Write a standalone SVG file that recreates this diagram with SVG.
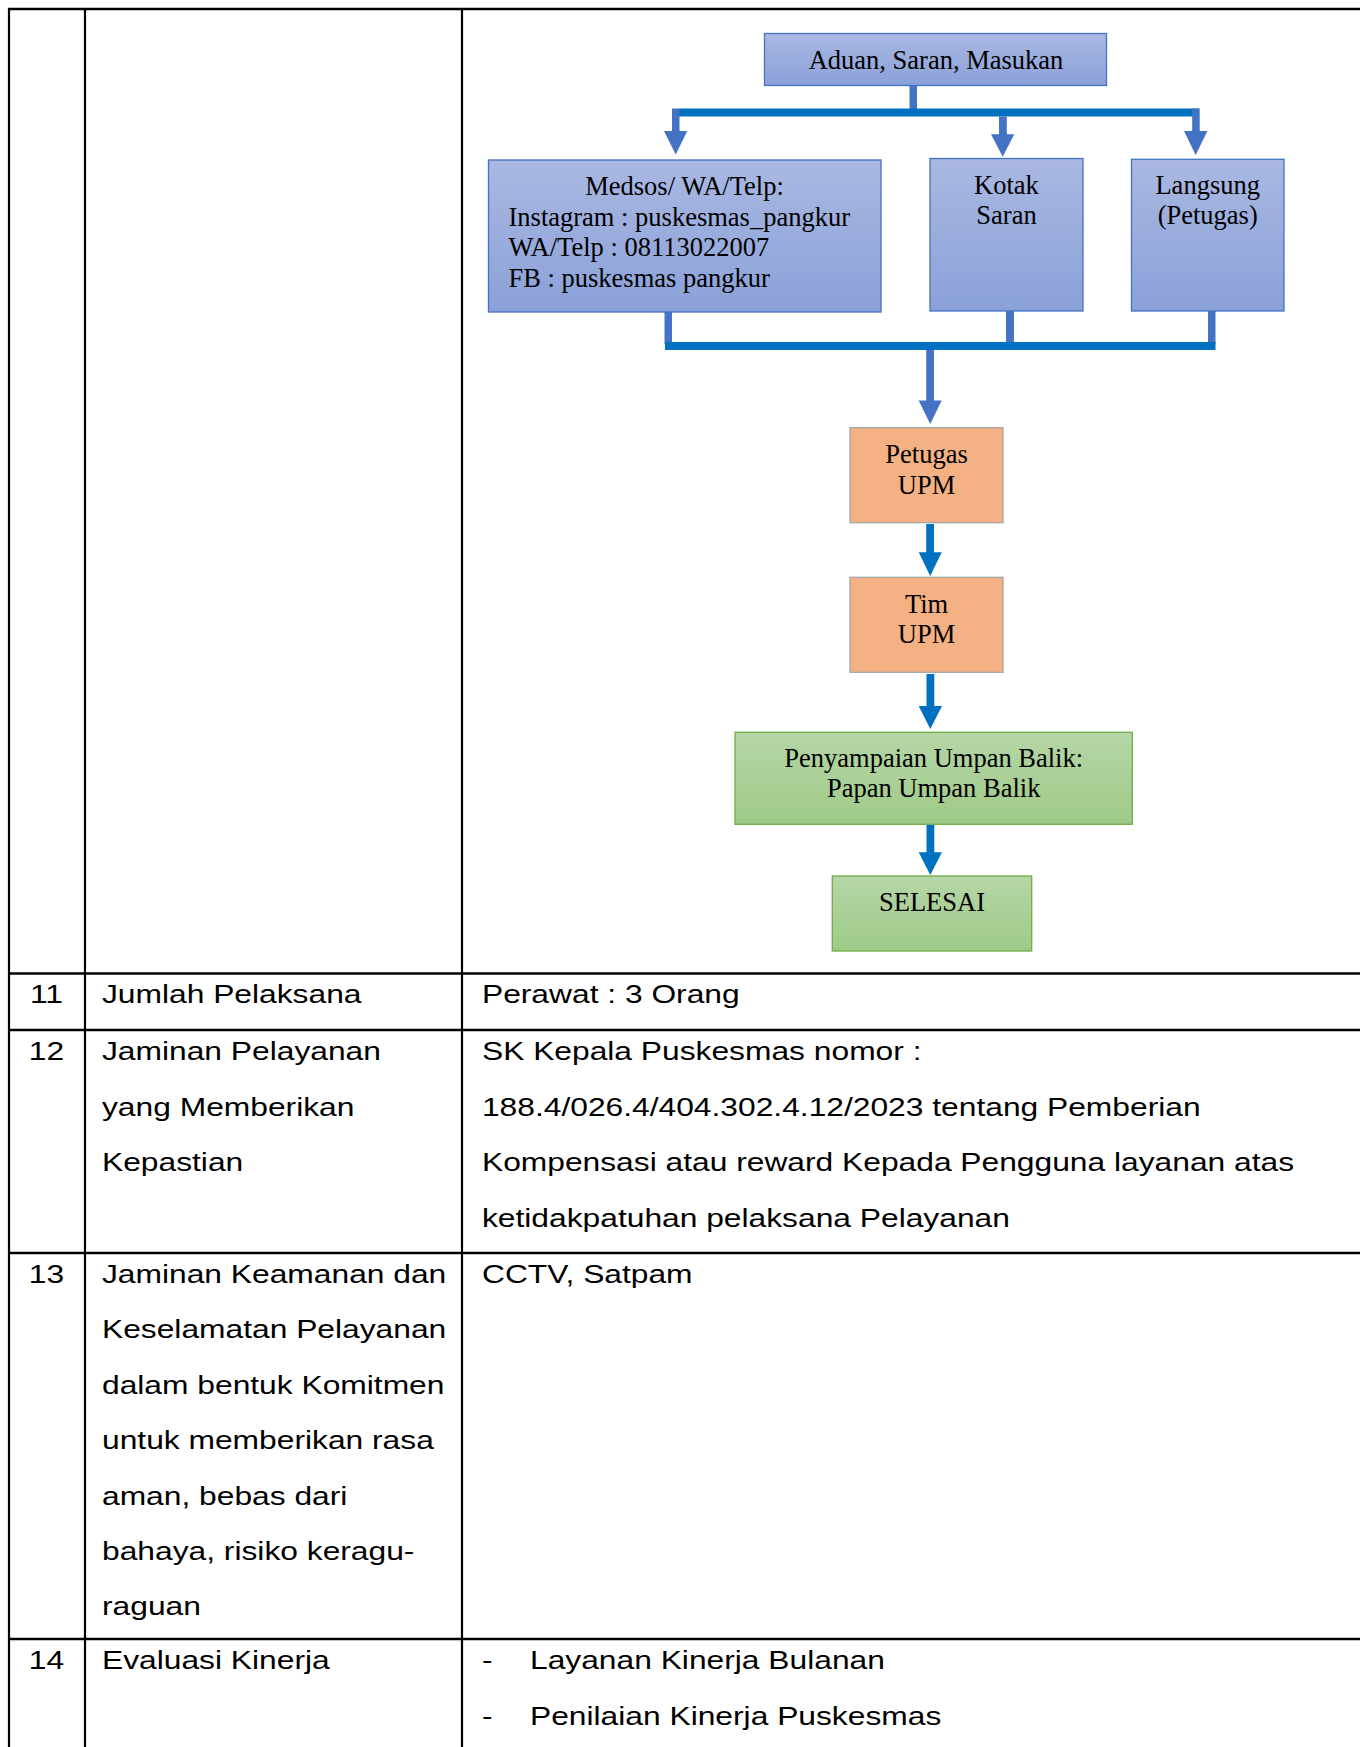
<svg xmlns="http://www.w3.org/2000/svg" width="1360" height="1747" viewBox="0 0 1360 1747">
<defs>
<linearGradient id="gBlue" x1="0" y1="0" x2="0" y2="1"><stop offset="0" stop-color="#AAB8E2"/><stop offset="1" stop-color="#8AA1D8"/></linearGradient>
<linearGradient id="gGreen" x1="0" y1="0" x2="0" y2="1"><stop offset="0" stop-color="#B5D6A6"/><stop offset="1" stop-color="#9FCA88"/></linearGradient>
<style>
.blue{fill:url(#gBlue);stroke:#4472C4;stroke-width:1.3}
.orange{fill:#F4B183;stroke:#A5A5A5;stroke-width:1.3}
.green{fill:url(#gGreen);stroke:#70AD47;stroke-width:1.3}
.ft{font-family:"Liberation Serif","Times New Roman",serif;font-size:26.5px;fill:#000}
.c{text-anchor:middle}
.lc{fill:#4472C4}
.dc{fill:#0070C0}
.tl{stroke:#000;fill:none}
.tt{font-family:"Liberation Sans",Arial,sans-serif;font-size:26px;fill:#000}
</style>
</defs>
<rect width="1360" height="1747" fill="#fff"/>
<g id="table">
<g class="tl" stroke-width="2.2">
<line x1="9" y1="8" x2="9" y2="1747"/>
<line x1="85" y1="8" x2="85" y2="1747"/>
<line x1="462" y1="8" x2="462" y2="1747"/>
</g>
<g class="tl" stroke-width="2.5">
<line x1="8" y1="9" x2="1360" y2="9"/>
<line x1="8" y1="973.5" x2="1360" y2="973.5"/>
<line x1="8" y1="1030" x2="1360" y2="1030"/>
<line x1="8" y1="1253" x2="1360" y2="1253"/>
<line x1="8" y1="1639" x2="1360" y2="1639"/>
</g>
<g class="tt" transform="scale(1.222 1)">
<text x="38.05" y="1003.5" text-anchor="middle">11</text>
<text x="83.47" y="1003.5">Jumlah Pelaksana</text>
<text x="394.4" y="1003.5">Perawat : 3 Orang</text>
<text x="38.05" y="1060" text-anchor="middle">12</text>
<text x="83.47" y="1060">Jaminan Pelayanan</text>
<text x="83.47" y="1115.7">yang Memberikan</text>
<text x="83.47" y="1171.4">Kepastian</text>
<text x="394.4" y="1060">SK Kepala Puskesmas nomor :</text>
<text x="394.4" y="1115.7">188.4/026.4/404.302.4.12/2023 tentang Pemberian</text>
<text x="394.4" y="1171.4">Kompensasi atau reward Kepada Pengguna layanan atas</text>
<text x="394.4" y="1227.1">ketidakpatuhan pelaksana Pelayanan</text>
<text x="38.05" y="1283" text-anchor="middle">13</text>
<text x="83.47" y="1283">Jaminan Keamanan dan</text>
<text x="83.47" y="1338.4">Keselamatan Pelayanan</text>
<text x="83.47" y="1393.8">dalam bentuk Komitmen</text>
<text x="83.47" y="1449.2">untuk memberikan rasa</text>
<text x="83.47" y="1504.6">aman, bebas dari</text>
<text x="83.47" y="1560">bahaya, risiko keragu-</text>
<text x="83.47" y="1615.4">raguan</text>
<text x="394.4" y="1283">CCTV, Satpam</text>
<text x="38.05" y="1669.5" text-anchor="middle">14</text>
<text x="83.47" y="1669.5">Evaluasi Kinerja</text>
<text x="394.4" y="1669.5">-</text>
<text x="433.7" y="1669.5">Layanan Kinerja Bulanan</text>
<text x="394.4" y="1725.2">-</text>
<text x="433.7" y="1725.2">Penilaian Kinerja Puskesmas</text>
</g>
</g>
<g id="connectors">
<rect class="lc" x="909.5" y="85" width="7.5" height="27"/>
<rect class="dc" x="679" y="108.5" width="520" height="8"/>
<rect class="lc" x="672" y="108.5" width="7.5" height="23"/>
<polygon class="lc" points="664,131 687.3,131 675.7,154.5"/>
<rect class="lc" x="999" y="116.5" width="7.8" height="18.5"/>
<polygon class="lc" points="991,134.3 1014.3,134.3 1002.7,156.7"/>
<rect class="lc" x="1192.2" y="108.5" width="7.5" height="23"/>
<polygon class="lc" points="1184,131 1207.4,131 1195.7,155"/>
<rect class="lc" x="664.5" y="312" width="7.5" height="32"/>
<rect class="lc" x="1006" y="311" width="8" height="33"/>
<rect class="lc" x="1208" y="311" width="7.5" height="33"/>
<rect class="dc" x="665" y="342" width="550.5" height="8"/>
<rect class="lc" x="926.2" y="350" width="7.8" height="51"/>
<polygon class="lc" points="918.7,400.5 941.7,400.5 930.2,424"/>
<rect class="dc" x="926.2" y="524" width="7.8" height="29"/>
<polygon class="dc" points="918.7,552.3 941.7,552.3 930.2,576"/>
<rect class="dc" x="926.5" y="674" width="7.8" height="33"/>
<polygon class="dc" points="918.7,706 942,706 930.3,729"/>
<rect class="dc" x="926.5" y="825" width="7.8" height="28"/>
<polygon class="dc" points="918.7,852.3 942,852.3 930.3,875"/>
</g>
<g id="n-aduan">
<rect class="blue" x="764.5" y="33.5" width="342" height="52"/>
<text class="ft c" x="936" y="69.3">Aduan, Saran, Masukan</text>
</g>
<g id="n-medsos">
<rect class="blue" x="488.5" y="160" width="392.5" height="152"/>
<text class="ft c" x="684.5" y="195">Medsos/ WA/Telp:</text>
<text class="ft" x="508.5" y="225.5">Instagram : puskesmas_pangkur</text>
<text class="ft" x="508.5" y="256">WA/Telp : 08113022007</text>
<text class="ft" x="508.5" y="286.5">FB : puskesmas pangkur</text>
</g>
<g id="n-kotak">
<rect class="blue" x="930" y="158.5" width="153" height="152.5"/>
<text class="ft c" x="1006.5" y="193.8">Kotak</text>
<text class="ft c" x="1006.5" y="224.3">Saran</text>
</g>
<g id="n-langsung">
<rect class="blue" x="1131.5" y="159.3" width="152.5" height="151.7"/>
<text class="ft c" x="1207.7" y="193.8">Langsung</text>
<text class="ft c" x="1207.7" y="224.3">(Petugas)</text>
</g>
<g id="n-petugas">
<rect class="orange" x="850" y="427.7" width="153" height="95"/>
<text class="ft c" x="926.5" y="462.7">Petugas</text>
<text class="ft c" x="926.5" y="494">UPM</text>
</g>
<g id="n-tim">
<rect class="orange" x="850" y="577.3" width="153" height="95"/>
<text class="ft c" x="926.5" y="612.7">Tim</text>
<text class="ft c" x="926.5" y="643.3">UPM</text>
</g>
<g id="n-penyampaian">
<rect class="green" x="735" y="732.3" width="397.3" height="92"/>
<text class="ft c" x="933.7" y="767.3">Penyampaian Umpan Balik:</text>
<text class="ft c" x="933.7" y="797.3">Papan Umpan Balik</text>
</g>
<g id="n-selesai">
<rect class="green" x="832.3" y="876" width="199.4" height="75"/>
<text class="ft c" x="932" y="910.7">SELESAI</text>
</g>
</svg>
